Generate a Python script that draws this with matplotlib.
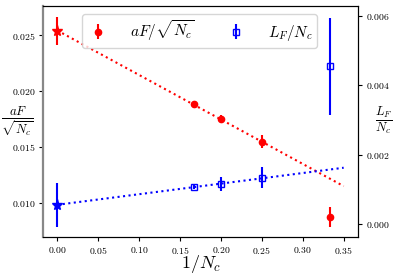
import matplotlib
matplotlib.use("Agg")
import matplotlib.pyplot as plt

plt.rcParams['mathtext.fontset'] = 'cm'
plt.rcParams['font.family'] = 'serif'
plt.rcParams['font.serif'] = ['cmr10', 'DejaVu Serif']
plt.rcParams['axes.formatter.use_mathtext'] = True

# data
inv_nc = [1/6, 1/5, 1/4, 1/3]
aF = [0.01884, 0.01750, 0.01547, 0.00875]
aF_err = [0.00012, 0.00040, 0.00060, 0.00090]
LF = [0.00107, 0.00116, 0.00133, 0.00455]
LF_err = [0.00006, 0.00020, 0.00030, 0.00140]

# extrapolated values at 1/Nc = 0
ext_x = [0.0]
aF_ext = [0.02536]
aF_ext_err = [0.00125]
LF_ext = [0.00055]
LF_ext_err = [0.00064]

# linear fits (endpoints)
fit_x = [0.0, 0.35]
fit_aF = [0.02540, 0.01150]
fit_LF = [0.00055, 0.00162]

fig = plt.figure(figsize=(3.95, 2.79), dpi=100)
ax = fig.add_axes([43/395, 1-237/279, 315/395, 231/279])
ax2 = ax.twinx()

h1 = ax.errorbar(inv_nc, aF, yerr=aF_err, fmt='o', color='red', ms=4.5,
                 elinewidth=1.5, capsize=0, label=r'$aF/\sqrt{N_c}$')
ax.errorbar(ext_x, aF_ext, yerr=aF_ext_err, fmt='*', color='red', ms=8,
            elinewidth=1.5, capsize=0)
ax.plot(fit_x, fit_aF, ':', color='red', lw=1.5)

h2 = ax2.errorbar(inv_nc, LF, yerr=LF_err, fmt='s', color='blue', mfc='none',
                  ms=5, mew=1.0, elinewidth=1.5, capsize=0, label=r'$L_F/N_c$')
ax2.errorbar(ext_x, LF_ext, yerr=LF_ext_err, fmt='*', color='blue', ms=8,
             elinewidth=1.5, capsize=0)
ax2.plot(fit_x, fit_LF, ':', color='blue', lw=1.5)

ax.set_ylim(0.00696, 0.02759)
ax2.set_ylim(-0.00038, 0.00629)
ax.set_xticks([0.0, 0.05, 0.10, 0.15, 0.20, 0.25, 0.30, 0.35])
ax.set_yticks([0.010, 0.015, 0.020, 0.025])
ax2.set_yticks([0.000, 0.002, 0.004, 0.006])

for a in (ax, ax2):
    a.tick_params(labelsize=7, length=3, width=0.8, pad=2.5)
ax.spines['left'].set_color('#888888')
ax.spines['left'].set_linewidth(1.6)
ax2.spines['left'].set_visible(False)

ax.set_xlabel(r'$1/N_c$', fontsize=13, labelpad=0)
ax.xaxis.set_label_coords(0.5, -0.118)
ax.xaxis.label.set_va('center')
ax.set_ylabel(r'$\frac{aF}{\sqrt{N_c}}$', fontsize=13, rotation=0,
              va='center', ha='center')
ax.yaxis.set_label_coords(-0.081, 0.50)
ax2.set_ylabel(r'$\frac{L_F}{N_c}$', fontsize=13, rotation=0,
               va='center', ha='center')
ax2.yaxis.set_label_coords(1.08, 0.506)

leg = ax2.legend([h1, h2], [r'$aF/\sqrt{N_c}$', r'$L_F/N_c$'], ncol=2,
                 fontsize=11, loc='upper center', bbox_to_anchor=(0.497, 0.965),
                 borderaxespad=0, columnspacing=2.0, handletextpad=1.3,
                 handlelength=1.5, borderpad=0.3)

fig.savefig('out.png', dpi=100)
